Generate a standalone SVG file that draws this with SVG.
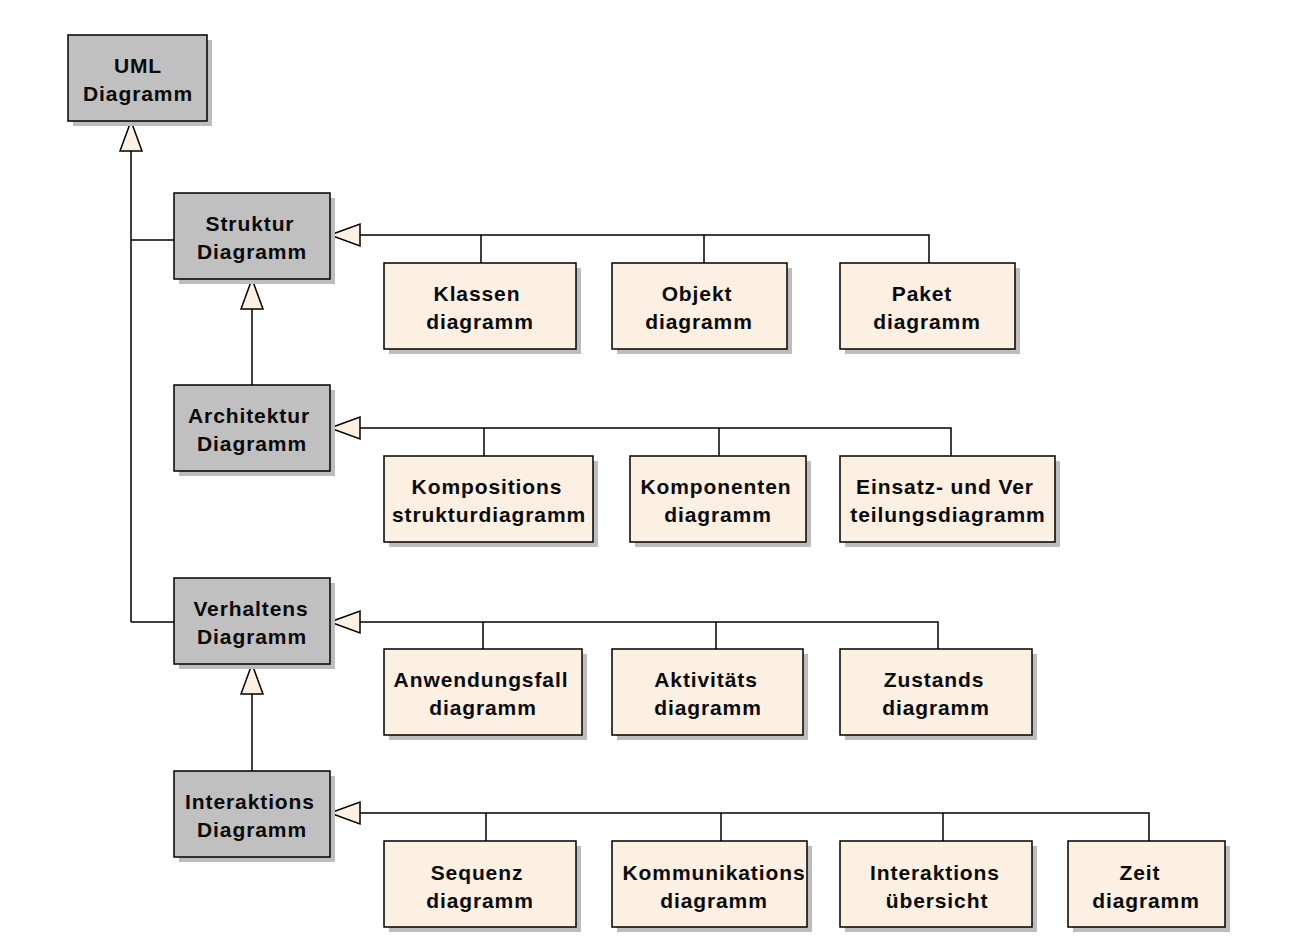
<svg xmlns="http://www.w3.org/2000/svg" width="1296" height="945" viewBox="0 0 1296 945">
<style>
.sh{fill:#bdbdbd}
.g{fill:#c0c0c0;stroke:#000;stroke-width:1.5}
.c{fill:#fbf0e1;stroke:#000;stroke-width:1.5}
text{font-family:"Liberation Sans",Arial,sans-serif;font-size:21px;font-weight:bold;fill:#0a0a0a;text-anchor:middle;letter-spacing:0.9px}
.ln{fill:none;stroke:#000;stroke-width:1.5}
.ah{fill:#fbf0e1;stroke:#000;stroke-width:1.5;stroke-linejoin:miter}
</style>
<rect width="1296" height="945" fill="#fff"/>
<g id="connectors">
<path class="ln" d="M131,151V622M131,240H174M131,622H174"/>
<polygon class="ah" points="131,121 120,151 142,151"/>
<path class="ln" d="M252,309V385"/>
<polygon class="ah" points="252,279 241,309 263,309"/>
<path class="ln" d="M252,694V771"/>
<polygon class="ah" points="252,664 241,694 263,694"/>
<path class="ln" d="M360,235H929V263M481,235V263M704,235V263"/>
<polygon class="ah" points="330,235 360,224 360,246"/>
<path class="ln" d="M360,428H951V456M484,428V456M719,428V456"/>
<polygon class="ah" points="330,428 360,417 360,439"/>
<path class="ln" d="M360,622H938V649M483,622V649M716,622V649"/>
<polygon class="ah" points="330,622 360,611 360,633"/>
<path class="ln" d="M360,813H1149V841M486,813V841M721,813V841M943,813V841"/>
<polygon class="ah" points="330,813 360,802 360,824"/>
</g>
<g id="uml"><rect class="sh" x="73" y="40" width="139" height="86"/><rect class="g" x="68" y="35" width="139" height="86"/><text x="138" y="73">UML</text><text x="138" y="101">Diagramm</text></g>
<g id="struktur"><rect class="sh" x="179" y="198" width="156" height="86"/><rect class="g" x="174" y="193" width="156" height="86"/><text x="250" y="231">Struktur</text><text x="252" y="259">Diagramm</text></g>
<g id="architektur"><rect class="sh" x="179" y="390" width="156" height="86"/><rect class="g" x="174" y="385" width="156" height="86"/><text x="249" y="423">Architektur</text><text x="252" y="451">Diagramm</text></g>
<g id="verhaltens"><rect class="sh" x="179" y="583" width="156" height="86"/><rect class="g" x="174" y="578" width="156" height="86"/><text x="251" y="616">Verhaltens</text><text x="252" y="644">Diagramm</text></g>
<g id="interaktions"><rect class="sh" x="179" y="776" width="156" height="86"/><rect class="g" x="174" y="771" width="156" height="86"/><text x="250" y="809">Interaktions</text><text x="252" y="837">Diagramm</text></g>
<g id="klassen"><rect class="sh" x="389" y="268" width="192" height="86"/><rect class="c" x="384" y="263" width="192" height="86"/><text x="477" y="301">Klassen</text><text x="480" y="329">diagramm</text></g>
<g id="objekt"><rect class="sh" x="617" y="268" width="175" height="86"/><rect class="c" x="612" y="263" width="175" height="86"/><text x="697" y="301">Objekt</text><text x="699" y="329">diagramm</text></g>
<g id="paket"><rect class="sh" x="845" y="268" width="175" height="86"/><rect class="c" x="840" y="263" width="175" height="86"/><text x="922" y="301">Paket</text><text x="927" y="329">diagramm</text></g>
<g id="kompositions"><rect class="sh" x="389" y="461" width="209" height="86"/><rect class="c" x="384" y="456" width="209" height="86"/><text x="487" y="494">Kompositions</text><text x="489" y="522">strukturdiagramm</text></g>
<g id="komponenten"><rect class="sh" x="635" y="461" width="176" height="86"/><rect class="c" x="630" y="456" width="176" height="86"/><text x="716" y="494">Komponenten</text><text x="718" y="522">diagramm</text></g>
<g id="einsatz"><rect class="sh" x="845" y="461" width="215" height="86"/><rect class="c" x="840" y="456" width="215" height="86"/><text x="945" y="494">Einsatz- und Ver</text><text x="948" y="522">teilungsdiagramm</text></g>
<g id="anwendungsfall"><rect class="sh" x="389" y="654" width="198" height="86"/><rect class="c" x="384" y="649" width="198" height="86"/><text x="481" y="687">Anwendungsfall</text><text x="483" y="715">diagramm</text></g>
<g id="aktivitaets"><rect class="sh" x="617" y="654" width="191" height="86"/><rect class="c" x="612" y="649" width="191" height="86"/><text x="706" y="687">Aktivitäts</text><text x="708" y="715">diagramm</text></g>
<g id="zustands"><rect class="sh" x="845" y="654" width="192" height="86"/><rect class="c" x="840" y="649" width="192" height="86"/><text x="934" y="687">Zustands</text><text x="936" y="715">diagramm</text></g>
<g id="sequenz"><rect class="sh" x="389" y="846" width="192" height="86"/><rect class="c" x="384" y="841" width="192" height="86"/><text x="477" y="880">Sequenz</text><text x="480" y="908">diagramm</text></g>
<g id="kommunikations"><rect class="sh" x="617" y="846" width="195" height="86"/><rect class="c" x="612" y="841" width="195" height="86"/><text x="714" y="880">Kommunikations</text><text x="714" y="908">diagramm</text></g>
<g id="uebersicht"><rect class="sh" x="845" y="846" width="192" height="86"/><rect class="c" x="840" y="841" width="192" height="86"/><text x="935" y="880">Interaktions</text><text x="937" y="908">übersicht</text></g>
<g id="zeit"><rect class="sh" x="1073" y="846" width="157" height="86"/><rect class="c" x="1068" y="841" width="157" height="86"/><text x="1140" y="880">Zeit</text><text x="1146" y="908">diagramm</text></g>
</svg>
